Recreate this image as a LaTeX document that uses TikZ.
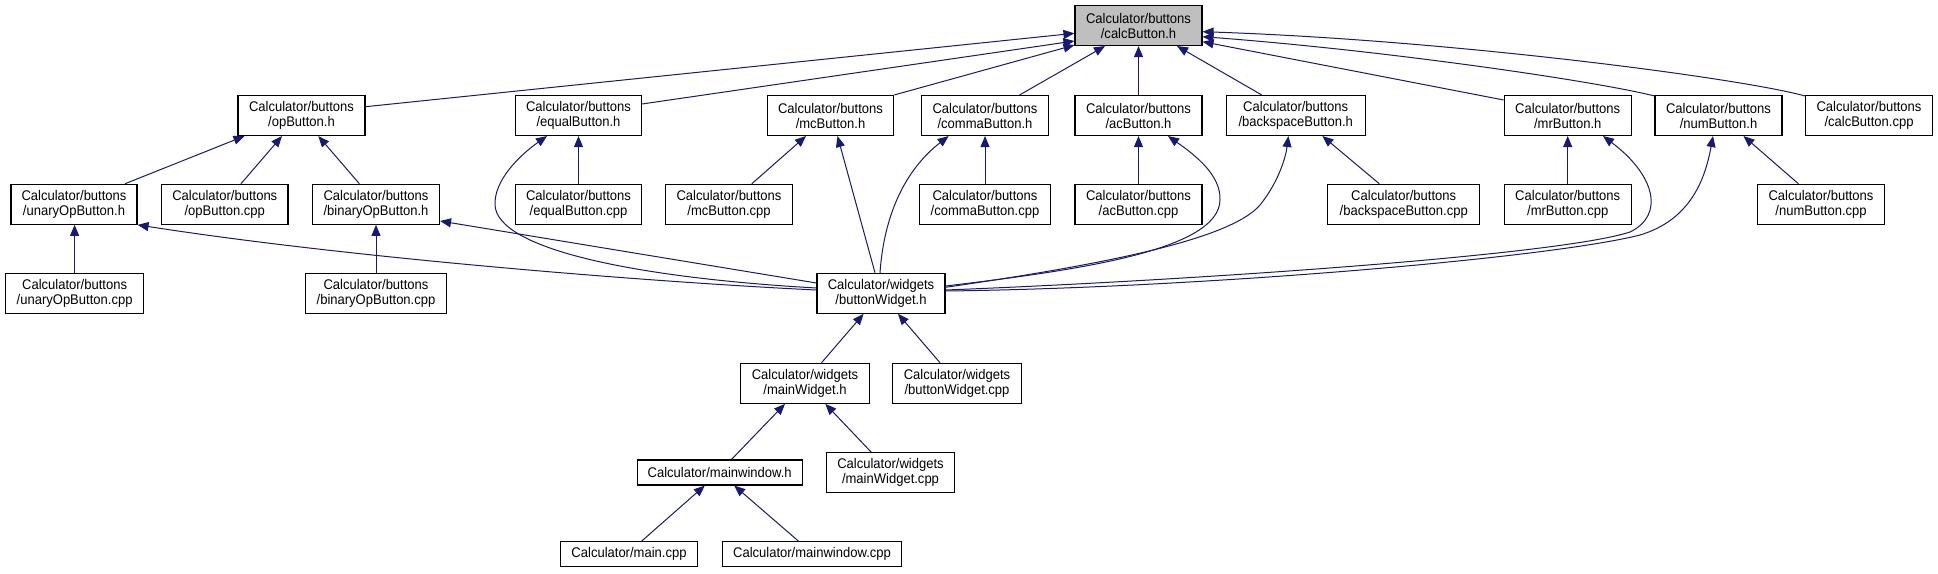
\documentclass[tikz,border=0pt]{standalone}
\usepackage{fontspec}
\setmainfont{Liberation Sans}
\newfontfamily\narrowsans[FakeStretch=0.93]{Liberation Sans}
\usetikzlibrary{arrows.meta}
\definecolor{edgeblue}{HTML}{191970}
\definecolor{rootgray}{HTML}{BFBFBF}
\tikzset{
  box/.style={draw=black, line width=1.1pt, fill=white, minimum height=40pt, inner sep=0pt, align=center, font=\narrowsans\fontsize{14}{15}\selectfont},
  onebox/.style={box, minimum height=25pt},
  edge/.style={draw=edgeblue, line width=1pt, -{Triangle[length=11pt,width=9pt]}}
}
\begin{document}
\begin{tikzpicture}[x=1pt,y=-1pt]
\useasboundingbox[fill=white] (0,0) rectangle (1938,573);
% row 1
\node[box, fill=rootgray, minimum width=127pt] (calc) at (1138.5,25.5) {Calculator/buttons\\/calcButton.h};
% row 2
\node[box, minimum width=127pt] (opH) at (301.5,115.5) {Calculator/buttons\\/opButton.h};
\node[box, minimum width=126pt] (equalH) at (578.5,115.5) {Calculator/buttons\\/equalButton.h};
\node[box, minimum width=126.5pt] (mcH) at (830.5,115.5) {Calculator/buttons\\/mcButton.h};
\node[box, minimum width=126.5pt] (commaH) at (985,115.5) {Calculator/buttons\\/commaButton.h};
\node[box, minimum width=127pt] (acH) at (1138.5,115.5) {Calculator/buttons\\/acButton.h};
\node[box, minimum width=139pt] (bsH) at (1295.7,115.5) {Calculator/buttons\\/backspaceButton.h};
\node[box, minimum width=127pt] (mrH) at (1567.7,115.5) {Calculator/buttons\\/mrButton.h};
\node[box, minimum width=127pt] (numH) at (1718.5,115.5) {Calculator/buttons\\/numButton.h};
\node[box, minimum width=127pt] (calcCpp) at (1869,115.5) {Calculator/buttons\\/calcButton.cpp};
% row 3
\node[box, minimum width=126pt] (unaryH) at (74,204.3) {Calculator/buttons\\/unaryOpButton.h};
\node[box, minimum width=126.4pt] (opCpp) at (224.8,204.3) {Calculator/buttons\\/opButton.cpp};
\node[box, minimum width=127pt] (binaryH) at (376,204.3) {Calculator/buttons\\/binaryOpButton.h};
\node[box, minimum width=126pt] (equalCpp) at (578.5,204.3) {Calculator/buttons\\/equalButton.cpp};
\node[box, minimum width=126.4pt] (mcCpp) at (729,204.3) {Calculator/buttons\\/mcButton.cpp};
\node[box, minimum width=131.7pt] (commaCpp) at (985,204.3) {Calculator/buttons\\/commaButton.cpp};
\node[box, minimum width=127pt] (acCpp) at (1138.5,204.3) {Calculator/buttons\\/acButton.cpp};
\node[box, minimum width=152pt] (bsCpp) at (1403.7,204.3) {Calculator/buttons\\/backspaceButton.cpp};
\node[box, minimum width=127pt] (mrCpp) at (1567.7,204.3) {Calculator/buttons\\/mrButton.cpp};
\node[box, minimum width=127pt] (numCpp) at (1821,204.3) {Calculator/buttons\\/numButton.cpp};
% row 4
\node[box, minimum width=138.4pt] (unaryCpp) at (74.6,293.3) {Calculator/buttons\\/unaryOpButton.cpp};
\node[box, minimum width=141pt] (binaryCpp) at (376,293.3) {Calculator/buttons\\/binaryOpButton.cpp};
\node[box, minimum width=128pt] (bw) at (881,293.3) {Calculator/widgets\\/buttonWidget.h};
% row 5
\node[box, minimum width=128.6pt] (mainW) at (805,383.3) {Calculator/widgets\\/mainWidget.h};
\node[box, minimum width=128.2pt] (bwCpp) at (957,383.3) {Calculator/widgets\\/buttonWidget.cpp};
% row 6
\node[onebox, minimum width=165.3pt] (mwH) at (719.7,472.5) {Calculator/mainwindow.h};
\node[box, minimum width=128.2pt] (mainWCpp) at (890.5,472.7) {Calculator/widgets\\/mainWidget.cpp};
% row 7
\node[onebox, minimum width=137.4pt] (mainCpp) at (629,554.2) {Calculator/main.cpp};
\node[onebox, minimum width=179.1pt] (mwCpp) at (812,554.2) {Calculator/mainwindow.cpp};

% edges to calcButton.h
\draw[edge] ([yshift=8.8pt]opH.east) -- ([yshift=-7.8pt]calc.west);
\draw[edge] ([yshift=11.5pt]equalH.east) -- ([yshift=-15.5pt]calc.west);
\draw[edge] (mcH.north east) -- ([yshift=1pt]calc.south west);
\draw[edge] ([xshift=34.6pt]commaH.north) -- ([xshift=-33.5pt]calc.south);
\draw[edge] (acH.north) -- (calc.south);
\draw[edge] ([xshift=-34pt]bsH.north) -- ([xshift=38.5pt]calc.south);
\draw[edge] ([yshift=15.5pt]mrH.west) -- ([yshift=-16.2pt]calc.east);
\draw[edge] ([yshift=-1pt]numH.north west) .. controls (1590,80) and (1380,50) .. ([yshift=-11.2pt]calc.east);
\draw[edge] ([yshift=-1pt]calcCpp.north west) .. controls (1740,78) and (1450,40) .. ([yshift=-6.2pt]calc.east);

% opButton.h
\draw[edge] ([xshift=51pt]unaryH.north) -- ([xshift=-57pt]opH.south);
\draw[edge] ([xshift=16.2pt]opCpp.north) -- ([xshift=-19.5pt]opH.south);
\draw[edge] ([xshift=-16.6pt]binaryH.north) -- ([xshift=16.8pt]opH.south);

% equalButton.h
\draw[edge] (equalCpp.north) -- (equalH.south);
\draw[edge] ([yshift=5.3pt]bw.west) .. controls (640,278) and (497,250) .. (495,205)
   .. controls (494,180) and (520,155) .. ([xshift=-31.5pt]equalH.south);

% mcButton.h
\draw[edge] ([xshift=22.8pt]mcCpp.north) -- ([xshift=-24.5pt]mcH.south);
\draw[edge] ([xshift=-6pt]bw.north) -- ([xshift=7pt]mcH.south);

% commaButton.h
\draw[edge] (commaCpp.north) -- (commaH.south);
\draw[edge] ([xshift=-1pt]bw.north) .. controls (884,215) and (905,170) .. ([xshift=-36.4pt]commaH.south);

% acButton.h
\draw[edge] (acCpp.north) -- (acH.south);
\draw[edge] ([yshift=7.3pt]bw.east) .. controls (1080,270) and (1219,250) .. (1220,200)
   .. controls (1221,175) and (1195,155) .. ([xshift=29.5pt]acH.south);

% backspaceButton.h
\draw[edge] ([xshift=-24.4pt]bsCpp.north) -- ([xshift=26.7pt]bsH.south);
\draw[edge] ([yshift=6pt]bw.east) .. controls (1100,265) and (1230,240) .. (1260,205)
   .. controls (1280,180) and (1286,155) .. ([xshift=-7.3pt]bsH.south);

% mrButton.h
\draw[edge] (mrCpp.north) -- (mrH.south);
\draw[edge] ([yshift=3.3pt]bw.east) .. controls (1200,280) and (1560,255) .. (1630,232)
   .. controls (1665,215) and (1655,175) .. ([xshift=35.3pt]mrH.south);

% numButton.h
\draw[edge] ([xshift=-22.6pt]numCpp.north) -- ([xshift=25pt]numH.south);
\draw[edge] ([yshift=2.3pt]bw.east) .. controls (1200,288) and (1550,258) .. (1640,235)
   .. controls (1690,220) and (1705,180) .. ([xshift=-5.5pt]numH.south);

% unaryOpButton.h
\draw[edge] (unaryCpp.north) -- (unaryCpp.north |- unaryH.south);
\draw[edge] ([yshift=3.3pt]bw.west) .. controls (650,282) and (350,258) .. (unaryH.south east);

% binaryOpButton.h
\draw[edge] (binaryCpp.north) -- (binaryH.south);
\draw[edge] ([yshift=10.3pt]bw.west) -- ([yshift=-16.7pt]binaryH.east);

% buttonWidget.h
\draw[edge] ([xshift=16.5pt]mainW.north) -- ([xshift=-17.4pt]bw.south);
\draw[edge] ([xshift=-17pt]bwCpp.north) -- ([xshift=17pt]bw.south);

% mainWidget.h
\draw[edge] ([xshift=11.8pt]mwH.north) -- ([xshift=-20pt]mainW.south);
\draw[edge] ([xshift=-19.3pt]mainWCpp.north) -- ([xshift=20.3pt]mainW.south);

% mainwindow.h
\draw[edge] ([xshift=12.6pt]mainCpp.north) -- ([xshift=-14.9pt]mwH.south);
\draw[edge] ([xshift=-13.5pt]mwCpp.north) -- ([xshift=14.5pt]mwH.south);
\end{tikzpicture}
\end{document}
